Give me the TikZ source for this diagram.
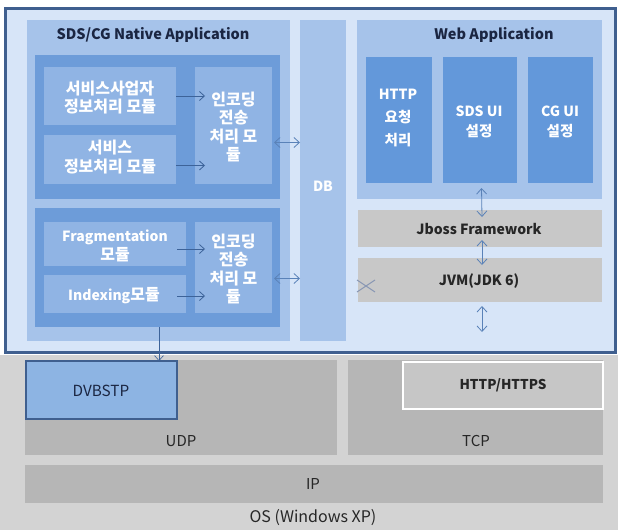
\documentclass[tikz,border=0pt]{standalone}
\usepackage{fontspec}
\setmainfont{Noto Sans CJK KR}
\usetikzlibrary{arrows.meta,fit}
\definecolor{frameblue}{HTML}{3F5F8F}
\definecolor{framefill}{HTML}{D7E5F8}
\definecolor{appfill}{HTML}{A6C3EA}
\definecolor{grpfill}{HTML}{6D9CD9}
\definecolor{subfill}{HTML}{90B4E4}
\definecolor{websub}{HTML}{6398DA}
\definecolor{jgray}{HTML}{C8C8C8}
\definecolor{osbg}{HTML}{D3D3D3}
\definecolor{laygray}{HTML}{B6B6B6}
\definecolor{httpgray}{HTML}{C6C6C6}
\definecolor{dvbfill}{HTML}{8DB4E3}
\definecolor{titlecol}{HTML}{1B2642}
\definecolor{arrowcol}{HTML}{3D6399}
\definecolor{darrcol}{HTML}{5A82B8}
\definecolor{xcol}{HTML}{8A98B4}
\newcommand{\krb}{\fontsize{16}{18.5}\selectfont}
\newcommand{\krw}{\fontsize{14.5}{23}\selectfont}
\begin{document}
\begin{tikzpicture}[x=1pt,y=-1pt,
  every node/.style={inner sep=0pt,outer sep=0pt},
  wtxt/.style={text=white,align=center,font=\bfseries\fontsize{14}{18.5}\selectfont},
  webtxt/.style={text=white,align=center,font=\bfseries\fontsize{14}{23}\selectfont},
  ttl/.style={text=titlecol,font=\bfseries\fontsize{14.5}{17}\selectfont},
  dtxt/.style={text=black!85,font=\bfseries\fontsize{14}{16}\selectfont},
  ltxt/.style={text=black!85,font=\fontsize{15}{17}\selectfont},
  arr/.style={draw=arrowcol,line width=0.8pt,-{Straight Barb[length=5pt,width=9pt]}},
  darr/.style={draw=darrcol,line width=0.8pt,{Straight Barb[length=5.5pt,width=10pt]}-{Straight Barb[length=5.5pt,width=10pt]}},
]
\fill[white] (0,0) rectangle (618,530);
\useasboundingbox (0,0) rectangle (618,530);

% bottom OS layer
\node[fit={(0,355)(618,530)},fill=osbg] (os) {};
\node[ltxt,font=\fontsize{16}{18}\selectfont] (oslabel) at (313,518) {OS (Windows XP)};
\node[fit={(25,465)(603,503)},fill=laygray] (ip) {};
\node[ltxt] at (313,484) {IP};
\node[fit={(25,360)(337,455)},fill=laygray] (udp) {};
\node[ltxt] at (181,441) {UDP};
\node[fit={(348,360)(603,455)},fill=laygray] (tcp) {};
\node[ltxt] at (476,441) {TCP};
\node[fit={(403,362)(603,409)},fill=httpgray,draw=white,line width=2.5pt] (http) {};
\node[ltxt,font=\bfseries\fontsize{13.5}{16}\selectfont] at (503,385) {HTTP/HTTPS};
\node[fit={(26,361)(177,419)},fill=dvbfill,draw=frameblue,line width=2.5pt] (dvb) {};
\node[text=titlecol,font=\fontsize{15.3}{17}\selectfont] at (101,391) {DVBSTP};

% top frame
\node[fit={(5,8)(615,352)},fill=framefill,draw=frameblue,line width=3pt] (frame) {};

% native application
\node[fit={(27,20)(290,341)},fill=appfill] (native) {};
\node[ttl] at (153,35) {SDS/CG Native Application};
\node[fit={(35,55)(280,199)},fill=grpfill] (grp1) {};
\node[fit={(44,67)(176,125)},fill=subfill] (sp1) {};
\node[wtxt] at (110,97.5) {\krb 서비스사업자\\\krb 정보처리 모듈};
\node[fit={(44,135)(176,184)},fill=subfill] (sp2) {};
\node[wtxt] at (110,157) {\krb 서비스\\\krb 정보처리 모듈};
\node[fit={(195,67)(272,184)},fill=subfill] (enc1) {};
\node[wtxt] at (233.5,127) {\krb 인코딩\\\krb 전송\\\krb 처리 모\\\krb 듈};
\node[fit={(35,208)(280,327)},fill=grpfill] (grp2) {};
\node[fit={(44,222)(186,266)},fill=subfill] (frag) {};
\node[wtxt] at (115,246) {Fragmentation\\\krb 모듈};
\node[fit={(44,275)(186,313)},fill=subfill] (idx) {};
\node[wtxt] at (114,296) {Indexing{\krb 모듈}};
\node[fit={(195,222)(272,313)},fill=subfill] (enc2) {};
\node[wtxt] at (233.5,269) {\krb 인코딩\\\krb 전송\\\krb 처리 모\\\krb 듈};

% DB
\node[fit={(300,20)(346,341)},fill=appfill] (db) {};
\node[wtxt] at (323,186) {DB};

% web application
\node[fit={(357,20)(602,199)},fill=appfill] (web) {};
\node[ttl] at (494,35) {Web Application};
\node[fit={(366,57)(432,183)},fill=websub] (httpreq) {};
\node[webtxt] at (398,118) {HTTP\\\krw 요청\\\krw 처리};
\node[fit={(443,57)(517,183)},fill=websub] (sdsui) {};
\node[webtxt,font=\bfseries\fontsize{14}{20}\selectfont] at (479,122) {SDS UI\\\krw 설정};
\node[fit={(528,57)(593,183)},fill=websub] (cgui) {};
\node[webtxt,font=\bfseries\fontsize{14}{20}\selectfont] at (560,122) {CG UI\\\krw 설정};
\node[fit={(358,210)(602,247)},fill=jgray] (jboss) {};
\node[dtxt] at (479,229) {Jboss Framework};
\node[fit={(358,258)(602,302)},fill=jgray] (jvm) {};
\node[dtxt] at (479,281) {JVM(JDK 6)};

% arrows inside native app
\draw[arr] (sp1.east) -- ([xshift=10]sp1.east -| enc1.west);
\draw[arr] ([yshift=-6]sp2.east) -- ([xshift=10,yshift=-6]sp2.east -| enc1.west);
\draw[arr] ([shift={(-9,5)}]frag.east) -- ([shift={(10,5)}]frag.east -| enc2.west);
\draw[arr] ([shift={(-9,2)}]idx.east) -- ([shift={(10,2)}]idx.east -| enc2.west);
\draw[darr] ([shift={(2,17)}]enc1.east) -- ([shift={(0,17)}]enc1.east -| db.west);
\draw[darr] ([shift={(2,11)}]enc2.east) -- ([shift={(0,11)}]enc2.east -| db.west);

% vertical arrows
\coordinate (jvmbelow) at ([shift={(2,30)}]jvm.south);
\draw[darr] ([shift={(2,-11)}]web.south) -- ([shift={(2,7)}]jboss.north);
\draw[darr] ([shift={(2,-7)}]jboss.south) -- ([shift={(2,7)}]jvm.north);
\draw[darr] ([shift={(2,4)}]jvm.south) -- (jvmbelow);

% down arrow to DVBSTP
\draw[arr,line width=0.6pt] ([xshift=1.5]grp2.south) -- ([xshift=1.5]grp2.south |- dvb.north);

% cross mark
\draw[xcol,line width=1pt] (357,280) -- (375,292) (357,292) -- (375,280);
\end{tikzpicture}
\end{document}
